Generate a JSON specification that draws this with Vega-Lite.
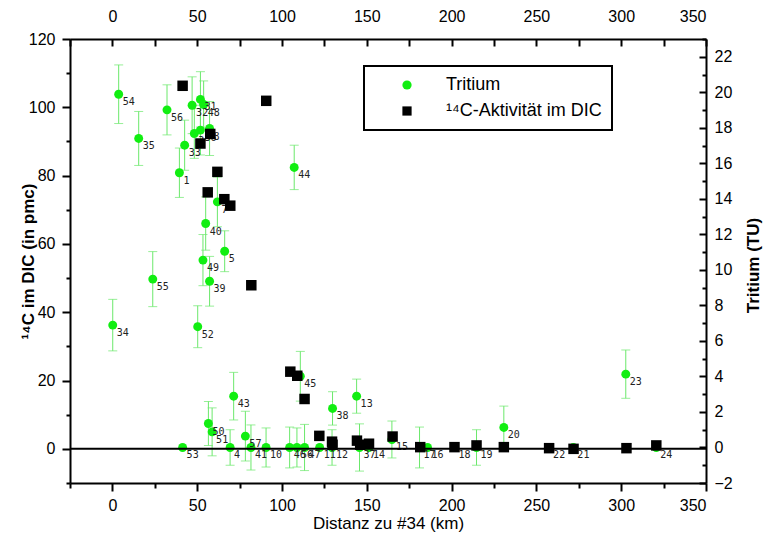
{
  "$schema": "https://vega.github.io/schema/vega-lite/v6.json",
  "width": 636,
  "height": 444,
  "autosize": "none",
  "padding": {"left": 70, "top": 39, "right": 57, "bottom": 50},
  "background": "white",
  "datasets": {
    "tritium": [
      {"id": "54", "dist": 3.7, "tu": 19.89, "lo": 18.24, "hi": 21.54},
      {"id": "35", "dist": 15.5, "tu": 17.4, "lo": 15.88, "hi": 18.92},
      {"id": "56", "dist": 32.2, "tu": 19.01, "lo": 17.6, "hi": 20.42},
      {"id": "33", "dist": 42.6, "tu": 17.02, "lo": 15.61, "hi": 18.43},
      {"id": "1", "dist": 39.5, "tu": 15.47, "lo": 14.08, "hi": 16.86},
      {"id": "32", "dist": 47.0, "tu": 19.27, "lo": 17.67, "hi": 20.87},
      {"id": "31", "dist": 51.9, "tu": 19.6, "lo": 18.04, "hi": 21.16},
      {"id": "48", "dist": 53.8, "tu": 19.31, "lo": 17.98, "hi": 20.64},
      {"id": "36", "dist": 51.9, "tu": 17.87, "lo": 16.47, "hi": 19.27},
      {"id": "3", "dist": 48.3, "tu": 17.68, "lo": 16.28, "hi": 19.08},
      {"id": "8", "dist": 57.3, "tu": 17.96, "lo": 16.44, "hi": 19.48},
      {"id": "44", "dist": 107.2, "tu": 15.77, "lo": 14.52, "hi": 17.02},
      {"id": "7", "dist": 61.9, "tu": 13.83, "lo": 12.43, "hi": 15.23},
      {"id": "40", "dist": 55.0, "tu": 12.61, "lo": 11.11, "hi": 14.11},
      {"id": "5", "dist": 66.2, "tu": 11.05, "lo": 9.9, "hi": 12.2},
      {"id": "49", "dist": 53.4, "tu": 10.55, "lo": 9.11, "hi": 11.99},
      {"id": "39", "dist": 57.3, "tu": 9.36, "lo": 7.96, "hi": 10.76},
      {"id": "55", "dist": 23.8, "tu": 9.48, "lo": 7.93, "hi": 11.03},
      {"id": "34", "dist": 0.2, "tu": 6.89, "lo": 5.44, "hi": 8.34},
      {"id": "52", "dist": 50.3, "tu": 6.8, "lo": 5.62, "hi": 7.98},
      {"id": "53", "dist": 41.4, "tu": 0, "lo": null, "hi": null},
      {"id": "50", "dist": 56.6, "tu": 1.35, "lo": 0.11, "hi": 2.59},
      {"id": "51", "dist": 58.8, "tu": 0.88, "lo": -0.47, "hi": 2.23},
      {"id": "43", "dist": 71.5, "tu": 2.89, "lo": 1.55, "hi": 4.23},
      {"id": "4", "dist": 69.4, "tu": 0, "lo": -1.0, "hi": 1.0},
      {"id": "57", "dist": 78.4, "tu": 0.64, "lo": -0.76, "hi": 2.04},
      {"id": "41", "dist": 81.7, "tu": 0, "lo": -1.27, "hi": 1.27},
      {"id": "10", "dist": 90.6, "tu": 0, "lo": -1.1, "hi": 1.1},
      {"id": "46", "dist": 104.5, "tu": 0, "lo": -1.15, "hi": 1.15},
      {"id": "56", "dist": 108.8, "tu": 0, "lo": -1.1, "hi": 1.1},
      {"id": "47", "dist": 113.3, "tu": 0, "lo": -1.3, "hi": 1.3},
      {"id": "11", "dist": 122.2, "tu": 0, "lo": null, "hi": null},
      {"id": "12", "dist": 129.5, "tu": 0, "lo": -1.0, "hi": 1.0},
      {"id": "45", "dist": 110.8, "tu": 4.01, "lo": 2.61, "hi": 5.41},
      {"id": "38", "dist": 129.8, "tu": 2.2, "lo": 1.26, "hi": 3.14},
      {"id": "13", "dist": 144.0, "tu": 2.89, "lo": 1.93, "hi": 3.85},
      {"id": "37", "dist": 145.7, "tu": 0, "lo": -1.33, "hi": 1.33},
      {"id": "14", "dist": 151.3, "tu": 0, "lo": null, "hi": null},
      {"id": "15", "dist": 164.8, "tu": 0.45, "lo": -0.59, "hi": 1.49},
      {"id": "17", "dist": 181.1, "tu": 0, "lo": -1.15, "hi": 1.15},
      {"id": "16", "dist": 185.8, "tu": 0, "lo": null, "hi": null},
      {"id": "18", "dist": 201.7, "tu": 0, "lo": null, "hi": null},
      {"id": "19", "dist": 214.7, "tu": 0, "lo": -1.0, "hi": 1.0},
      {"id": "20", "dist": 230.8, "tu": 1.13, "lo": -0.07, "hi": 2.33},
      {"id": "22", "dist": 257.5, "tu": 0, "lo": null, "hi": null},
      {"id": "21", "dist": 271.8, "tu": 0, "lo": null, "hi": null},
      {"id": "23", "dist": 302.7, "tu": 4.13, "lo": 2.77, "hi": 5.49},
      {"id": "24", "dist": 320.7, "tu": 0, "lo": null, "hi": null}
    ],
    "c14": [
      {"dist": 41.4, "pmc": 106.3},
      {"dist": 90.7, "pmc": 101.9},
      {"dist": 57.7, "pmc": 92.2},
      {"dist": 51.9, "pmc": 89.4},
      {"dist": 61.9, "pmc": 81.1},
      {"dist": 56.2, "pmc": 75.1},
      {"dist": 66.0, "pmc": 73.1},
      {"dist": 69.5, "pmc": 71.2},
      {"dist": 81.9, "pmc": 47.9},
      {"dist": 104.9, "pmc": 22.6},
      {"dist": 109.0, "pmc": 21.4},
      {"dist": 113.3, "pmc": 14.6},
      {"dist": 122.0, "pmc": 3.8},
      {"dist": 129.5, "pmc": 2.1},
      {"dist": 129.8, "pmc": 1.2},
      {"dist": 144.2, "pmc": 2.4},
      {"dist": 146.1, "pmc": 1.2},
      {"dist": 151.3, "pmc": 1.5},
      {"dist": 165.2, "pmc": 3.6},
      {"dist": 181.5, "pmc": 0.5},
      {"dist": 201.7, "pmc": 0.5},
      {"dist": 214.7, "pmc": 1.0},
      {"dist": 230.8, "pmc": 0.5},
      {"dist": 257.5, "pmc": 0.2},
      {"dist": 271.9, "pmc": 0.0},
      {"dist": 303.1, "pmc": 0.2},
      {"dist": 320.7, "pmc": 1.0}
    ]
  },
  "config": {
    "view": {"stroke": null},
    "font": "Liberation Sans",
    "axis": {
      "grid": false,
      "domainColor": "black",
      "domainWidth": 2,
      "tickColor": "black",
      "tickWidth": 2,
      "labelColor": "black",
      "labelFont": "Liberation Sans",
      "labelFontSize": 16,
      "titleColor": "black",
      "titleFont": "Liberation Sans"
    },
    "legend": {
      "orient": "none",
      "legendX": 294,
      "legendY": 27,
      "strokeColor": "black",
      "strokeWidth": 2,
      "fillColor": "white",
      "padding": 10,
      "rowPadding": 8,
      "labelFont": "Liberation Sans",
      "labelFontSize": 18,
      "labelColor": "black",
      "symbolSize": 85,
      "symbolStrokeWidth": 0,
      "symbolOffset": 24,
      "labelOffset": 30
    }
  },
  "resolve": {
    "scale": {"y": "independent"},
    "axis": {"x": "independent", "y": "independent"}
  },
  "layer": [
    {
      "data": {"name": "tritium"},
      "layer": [
        {
          "transform": [{"filter": "isValid(datum.lo)"}],
          "mark": {"type": "errorbar", "ticks": {"size": 9, "color": "#6be86b"}, "color": "#6be86b", "thickness": 1},
          "encoding": {
            "x": {"field": "dist", "type": "quantitative", "scale": {"domain": [-25, 350], "nice": false, "zero": false},
                  "axis": {"orient": "top", "values": [0, 50, 100, 150, 200, 250, 300, 350], "tickSize": -7, "labelPadding": 22, "title": null}},
            "y": {"field": "lo", "type": "quantitative", "scale": {"domain": [-2, 23], "nice": false, "zero": false},
                  "axis": {"orient": "right", "values": [-2, 0, 2, 4, 6, 8, 10, 12, 14, 16, 18, 20, 22], "tickSize": -7, "labelPadding": 15, "labelAlign": "left",
                           "title": "Tritium (TU)", "titleFontSize": 17, "titleFontWeight": "bold", "titleAngle": 270, "titleBaseline": "bottom", "titleX": 56, "titleY": 226}},
            "y2": {"field": "hi"}
          }
        },
        {
          "mark": {"type": "point", "filled": true, "opacity": 1, "size": 80},
          "encoding": {
            "x": {"field": "dist", "type": "quantitative", "scale": {"domain": [-25, 350], "nice": false, "zero": false},
                  "axis": {"orient": "top", "values": [0, 50, 100, 150, 200, 250, 300, 350], "tickSize": -7, "labelPadding": 22, "title": null}},
            "y": {"field": "tu", "type": "quantitative", "scale": {"domain": [-2, 23], "nice": false, "zero": false},
                  "axis": {"orient": "right", "values": [-2, 0, 2, 4, 6, 8, 10, 12, 14, 16, 18, 20, 22], "tickSize": -7, "labelPadding": 15, "labelAlign": "left",
                           "title": "Tritium (TU)", "titleFontSize": 17, "titleFontWeight": "bold", "titleAngle": 270, "titleBaseline": "bottom", "titleX": 56, "titleY": 226}},
            "color": {"datum": "Tritium", "type": "nominal", "scale": {"domain": ["Tritium", "¹⁴C-Aktivität im DIC"], "range": ["#11ee11", "black"]}, "legend": {"title": null}},
            "shape": {"datum": "Tritium", "type": "nominal", "scale": {"domain": ["Tritium", "¹⁴C-Aktivität im DIC"], "range": ["circle", "square"]}, "legend": {"title": null}}
          }
        },
        {
          "mark": {"type": "text", "align": "left", "baseline": "middle", "dx": 4, "dy": 8, "font": "DejaVu Sans Mono", "fontSize": 10, "color": "#222222"},
          "encoding": {
            "x": {"field": "dist", "type": "quantitative", "scale": {"domain": [-25, 350], "nice": false, "zero": false},
                  "axis": {"orient": "top", "values": [0, 50, 100, 150, 200, 250, 300, 350], "tickSize": -7, "labelPadding": 22, "title": null}},
            "y": {"field": "tu", "type": "quantitative", "scale": {"domain": [-2, 23], "nice": false, "zero": false},
                  "axis": {"orient": "right", "values": [-2, 0, 2, 4, 6, 8, 10, 12, 14, 16, 18, 20, 22], "tickSize": -7, "labelPadding": 15, "labelAlign": "left",
                           "title": "Tritium (TU)", "titleFontSize": 17, "titleFontWeight": "bold", "titleAngle": 270, "titleBaseline": "bottom", "titleX": 56, "titleY": 226}},
            "text": {"field": "id"}
          }
        }
      ]
    },
    {
      "layer": [
        {
          "data": {"values": [{}]},
          "mark": {"type": "rule", "color": "black", "strokeWidth": 2},
          "encoding": {
            "y": {"datum": 0, "type": "quantitative", "scale": {"domain": [-10, 120], "nice": false, "zero": false},
                  "axis": {"orient": "left", "values": [0, 20, 40, 60, 80, 100, 120], "tickSize": 8, "labelPadding": 7,
                           "title": "¹⁴C im DIC (in pmc)", "titleFontSize": 17, "titleFontWeight": "bold", "titleX": -33, "titleY": 222, "titleBaseline": "bottom", "titleAngle": 270}}
          }
        },
        {
          "data": {"name": "c14"},
          "mark": {"type": "point", "filled": true, "opacity": 1, "size": 110},
          "encoding": {
            "x": {"field": "dist", "type": "quantitative", "scale": {"domain": [-25, 350], "nice": false, "zero": false},
                  "axis": {"orient": "bottom", "values": [0, 50, 100, 150, 200, 250, 300, 350], "tickSize": 8, "labelPadding": 6,
                           "title": "Distanz zu #34 (km)", "titleFontSize": 17, "titleFontWeight": "normal", "titlePadding": 2}},
            "y": {"field": "pmc", "type": "quantitative", "scale": {"domain": [-10, 120], "nice": false, "zero": false},
                  "axis": {"orient": "left", "values": [0, 20, 40, 60, 80, 100, 120], "tickSize": 8, "labelPadding": 7,
                           "title": "¹⁴C im DIC (in pmc)", "titleFontSize": 17, "titleFontWeight": "bold", "titleX": -33, "titleY": 222, "titleBaseline": "bottom", "titleAngle": 270}},
            "color": {"datum": "¹⁴C-Aktivität im DIC", "type": "nominal", "scale": {"domain": ["Tritium", "¹⁴C-Aktivität im DIC"], "range": ["#11ee11", "black"]}, "legend": {"title": null}},
            "shape": {"datum": "¹⁴C-Aktivität im DIC", "type": "nominal", "scale": {"domain": ["Tritium", "¹⁴C-Aktivität im DIC"], "range": ["circle", "square"]}, "legend": {"title": null}}
          }
        }
      ]
    },
    {
      "data": {"values": [{}]},
      "mark": {"type": "point", "opacity": 0},
      "encoding": {
        "x": {"datum": 0, "type": "quantitative", "scale": {"domain": [-25, 350], "nice": false, "zero": false},
              "axis": {"orient": "bottom", "values": [-25, 25, 75, 125, 175, 225, 275, 325], "tickSize": 5, "labels": false, "domain": false, "title": null}},
        "y": {"datum": 0, "type": "quantitative", "scale": {"domain": [-10, 120], "nice": false, "zero": false},
              "axis": {"orient": "left", "values": [-10, 10, 30, 50, 70, 90, 110], "tickSize": 4, "labels": false, "domain": false, "title": null}}
      }
    },
    {
      "data": {"values": [{}]},
      "mark": {"type": "point", "opacity": 0},
      "encoding": {
        "x": {"datum": 0, "type": "quantitative", "scale": {"domain": [-25, 350], "nice": false, "zero": false},
              "axis": {"orient": "top", "values": [-25, 25, 75, 125, 175, 225, 275, 325], "tickSize": -7, "labels": false, "domain": false, "title": null}},
        "y": {"datum": 0, "type": "quantitative", "scale": {"domain": [-2, 23], "nice": false, "zero": false},
              "axis": {"orient": "right", "values": [-1, 1, 3, 5, 7, 9, 11, 13, 15, 17, 19, 21, 23], "tickSize": -4, "labels": false, "domain": false, "title": null}}
      }
    }
  ]
}
